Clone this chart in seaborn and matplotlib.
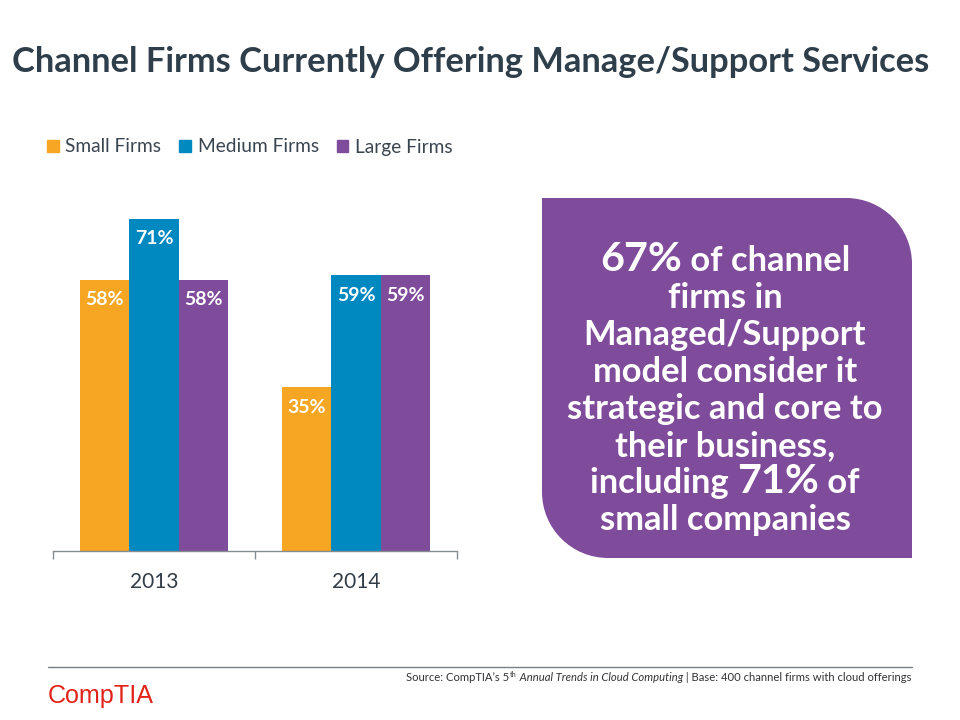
import matplotlib
matplotlib.use("Agg")
import matplotlib.pyplot as plt
import seaborn as sns
import pandas as pd
import numpy as np
from matplotlib.path import Path
from matplotlib.patches import PathPatch
from matplotlib.lines import Line2D
import matplotlib.transforms as mtransforms

# ---------------- data ----------------
years = ["2013", "2014"]
firm_sizes = ["Small Firms", "Medium Firms", "Large Firms"]
small_vals = [58, 35]
medium_vals = [71, 59]
large_vals = [58, 59]
colors = ["#F6A623", "#0089C1", "#7F4B9B"]

title_text = "Channel Firms Currently Offering Manage/Support Services"
callout_lines = [
    [("67%", "big"), (" of channel", "n")],
    [("firms in", "n")],
    [("Managed/Support", "n")],
    [("model consider it", "n")],
    [("strategic and core to", "n")],
    [("their business,", "n")],
    [("including ", "n"), ("71%", "big"), (" of", "n")],
    [("small companies", "n")],
]

rows = []
for i, y in enumerate(years):
    for s, vals in zip(firm_sizes, [small_vals, medium_vals, large_vals]):
        rows.append({"year": y, "size": s, "value": vals[i]})
df = pd.DataFrame(rows)

# ---------------- figure ----------------
sns.set_theme(style="white")
FONT = "Lato"
plt.rcParams["font.family"] = [FONT, "DejaVu Sans"]

W, H = 960, 720
fig = plt.figure(figsize=(9.6, 7.2), dpi=100)
fig.patch.set_facecolor("white")
renderer = fig.canvas.get_renderer()
pix = mtransforms.Affine2D().scale(1 / W, 1 / H) + fig.transFigure  # pixel coords, y up


def measure(text, size, **kw):
    t = fig.text(0, 0, text, fontsize=size, **kw)
    w = t.get_window_extent(renderer).width
    t.remove()
    return w


def fit(text, target, **kw):
    return 20 * target / measure(text, 20, **kw)


# axes
ax_left, ax_right = 53, 457
ax_bottom, ax_top = 550.7, 200.3
ax = fig.add_axes([ax_left / W, 1 - ax_bottom / H, (ax_right - ax_left) / W, (ax_bottom - ax_top) / H])
sns.barplot(data=df, x="year", y="value", hue="size", hue_order=firm_sizes,
            palette=colors, width=0.737, saturation=1, linewidth=0, ax=ax)
ax.set_xlim(-0.5, 1.5)
ax.set_ylim(0, 75)
ax.set_xlabel("")
ax.set_ylabel("")
ax.set_yticks([])
for s in ["left", "top", "right"]:
    ax.spines[s].set_visible(False)
ax.spines["bottom"].set_color("#868C92")
ax.spines["bottom"].set_linewidth(1.0)
ax.set_xticks([0, 1])
ax.set_xticklabels(years)
ax.set_xticks([-0.5, 0.5, 1.5], minor=True)
ax.tick_params(axis="x", which="major", length=0, pad=15, labelsize=15, labelcolor="#333D47")
ax.tick_params(axis="x", which="minor", length=5.5, width=1, color="#868C92", direction="out", bottom=True)
ax.set_facecolor("none")

# bar labels
for cont in ax.containers:
    for bar, v in zip(cont, cont.datavalues):
        ax.annotate(f"{v:.0f}%", (bar.get_x() + bar.get_width() / 2, bar.get_height()),
                    xytext=(0, -14.4), textcoords="offset points", ha="center", va="center",
                    color="white", fontweight="bold", fontsize=14, family=FONT)

# legend
leg_src = ax.get_legend()
if leg_src is not None:
    leg_src.remove()
handles = [plt.Rectangle((0, 0), 1, 1, color=c) for c in colors]
fig.legend(handles, firm_sizes, loc="center left", bbox_to_anchor=(47 / W, 1 - 147 / H),
           ncol=3, frameon=False, fontsize=13.8, handlelength=0.6, handleheight=0.6,
           handletextpad=0.35, columnspacing=0.95, borderpad=0, borderaxespad=0,
           labelcolor="#3B4550")

# title
tsize = fit(title_text, 916, fontweight="bold")
fig.text(12 / W, 1 - 62 / H, title_text, fontsize=tsize, fontweight="bold",
         color="#2F3E4B", ha="left", va="center")

# callout box with two rounded corners (top-right, bottom-left)
x0, x1, yt, yb = 542, 912, 198, 558
r = 66
k = 0.5523
X0, X1, YT, YB = x0, x1, H - yt, H - yb
verts = [
    (X0, YT),
    (X1 - r, YT),
    (X1 - r + k * r, YT), (X1, YT - r + k * r), (X1, YT - r),
    (X1, YB),
    (X0 + r, YB),
    (X0 + r - k * r, YB), (X0, YB + r - k * r), (X0, YB + r),
    (X0, YT),
]
codes = [Path.MOVETO, Path.LINETO, Path.CURVE4, Path.CURVE4, Path.CURVE4, Path.LINETO,
         Path.LINETO, Path.CURVE4, Path.CURVE4, Path.CURVE4, Path.CLOSEPOLY]
fig.patches.append(PathPatch(Path(verts, codes), facecolor="#7F4B9B", edgecolor="none",
                             transform=pix, zorder=0))

nsize = fit("strategic and core to", 315, fontweight="bold")
bsize = fit("67%", 82, fontweight="bold")
sizes = {"n": nsize, "big": bsize}
cx = 725
baselines = [271, 308, 345, 382, 419, 456, 493, 530]
for segs, by in zip(callout_lines, baselines):
    widths = [measure(t, sizes[s], fontweight="bold") for t, s in segs]
    x = cx - sum(widths) / 2
    for (t, s), w in zip(segs, widths):
        fig.text(x, H - by, t, fontsize=sizes[s], fontweight="bold", color="white",
                 ha="left", va="baseline", transform=pix)
        x += w

# footer line
fig.add_artist(Line2D([48, 912], [H - 667, H - 667], color="#7A7F84", lw=1, transform=pix))

# source text (right aligned at 912)
src_size = 7.0
src_segs = [
    ("Source: CompTIA\u2019s 5", src_size, "normal", 0),
    ("th", src_size * 0.65, "normal", 4),
    (" Annual Trends in Cloud Computing", src_size, "italic", 0),
    (" | Base: 400 channel firms with cloud offerings", src_size, "normal", 0),
]
sw = [measure(t, s, style=st) for t, s, st, _ in src_segs]
total = sum(sw)
scale = 506 / total
sw = [w * scale for w in sw]
x = 912 - sum(sw)
for (t, s, st, up), w in zip(src_segs, sw):
    fig.text(x, H - 681 + up, t, fontsize=s * scale, style=st, color="#333333",
             ha="left", va="baseline", transform=pix)
    x += w

# logo text
lsize = fit("CompTIA", 106, fontweight="normal", family="Liberation Sans")
fig.text(48, H - 703, "CompTIA", fontsize=lsize, color="#E2231A", family="Liberation Sans",
         ha="left", va="baseline", transform=pix)

fig.savefig("out.png", dpi=100, facecolor="white")
